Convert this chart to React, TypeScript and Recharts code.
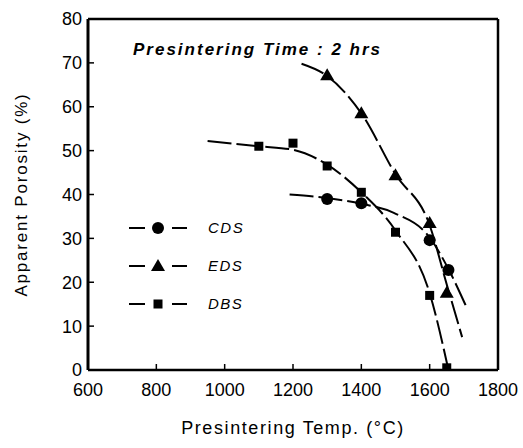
import {
  ComposedChart,
  Line,
  Scatter,
  XAxis,
  YAxis,
  ReferenceLine,
  Legend,
} from 'recharts';

const tempTicks = [600, 800, 1000, 1200, 1400, 1600, 1800];
const porosityTicks = [0, 10, 20, 30, 40, 50, 60, 70, 80];

// measured points
const cdsTemp = [1300, 1400, 1600, 1655];
const cdsPorosity = [39, 38, 29.6, 22.8];
const edsTemp = [1300, 1400, 1500, 1600, 1650];
const edsPorosity = [67.2, 58.5, 44.4, 33.5, 17.6];
const dbsTemp = [1100, 1200, 1300, 1400, 1500, 1600, 1650];
const dbsPorosity = [51, 51.7, 46.5, 40.5, 31.4, 17, 0.5];

// fitted curves
const cdsCurveTemp = [1190, 1300, 1400, 1495, 1600, 1655, 1705];
const cdsCurvePorosity = [40, 39.2, 37.9, 35.8, 30.2, 23, 14.8];
const edsCurveTemp = [1225, 1300, 1400, 1500, 1600, 1650, 1695];
const edsCurvePorosity = [69.8, 67, 58.5, 44.6, 33, 19.5, 7.5];
const dbsCurveTemp = [950, 1100, 1200, 1300, 1400, 1500, 1600, 1655];
const dbsCurvePorosity = [52.2, 51, 50.2, 46.8, 40.5, 31.8, 17.5, 0];

const toPoints = (xs: number[], ys: number[]) => xs.map((x, i) => ({ x, y: ys[i] }));

const seriesList = [
  { name: 'CDS', shape: 'circle', points: toPoints(cdsTemp, cdsPorosity), curve: toPoints(cdsCurveTemp, cdsCurvePorosity) },
  { name: 'EDS', shape: 'triangle', points: toPoints(edsTemp, edsPorosity), curve: toPoints(edsCurveTemp, edsCurvePorosity) },
  { name: 'DBS', shape: 'square', points: toPoints(dbsTemp, dbsPorosity), curve: toPoints(dbsCurveTemp, dbsCurvePorosity) },
];

const FONT = '"Liberation Sans", Arial, sans-serif';

function Marker({ kind, cx, cy }: { kind: string; cx: number; cy: number }) {
  if (kind === 'circle') return <circle cx={cx} cy={cy} r={6} fill="#000" />;
  if (kind === 'triangle')
    return <polygon points={`${cx},${cy - 7} ${cx - 7},${cy + 5} ${cx + 7},${cy + 5}`} fill="#000" />;
  return <rect x={cx - 4.5} y={cy - 4.5} width={9} height={9} fill="#000" />;
}

function LegendBox() {
  return (
    <svg width={140} height={100}>
      {seriesList.map((s, i) => {
        const y = 10 + i * 38;
        return (
          <g key={s.name}>
            <line x1={4} x2={20} y1={y} y2={y} stroke="#000" strokeWidth={2} />
            <Marker kind={s.shape} cx={33} cy={y} />
            <line x1={47} x2={62} y1={y} y2={y} stroke="#000" strokeWidth={2} />
            <text x={83} y={y + 5} fontSize={15} fontStyle="italic" fontFamily={FONT} fill="#000" letterSpacing={1.5}>
              {s.name}
            </text>
          </g>
        );
      })}
    </svg>
  );
}

export default function App() {
  return (
    <div style={{ position: 'absolute', left: 0, top: 0, width: 523, height: 448, background: '#fff' }}>
      <ComposedChart width={523} height={448} margin={{ top: 19, right: 25, left: 0, bottom: 8 }}>
        <XAxis
          type="number"
          dataKey="x"
          domain={[600, 1800]}
          ticks={tempTicks}
          allowDataOverflow
          height={70}
          tickSize={-6}
          tickMargin={19}
          axisLine={{ stroke: '#000', strokeWidth: 2.5 }}
          tickLine={{ stroke: '#000', strokeWidth: 1.5 }}
          tick={{ fill: '#000', fontSize: 18, fontFamily: FONT }}
          label={(props: any) => {
            const vb = props.viewBox;
            return (
              <text x={vb.x + vb.width / 2} y={434} textAnchor="middle" fontSize={18} fontFamily={FONT} fill="#000" letterSpacing={1.6}>
                Presintering Temp. (°C)
              </text>
            );
          }}
        />
        <YAxis
          type="number"
          dataKey="y"
          domain={[0, 80]}
          ticks={porosityTicks}
          allowDataOverflow
          width={88}
          tickSize={-6}
          tickMargin={12}
          axisLine={{ stroke: '#000', strokeWidth: 3 }}
          tickLine={{ stroke: '#000', strokeWidth: 1.5 }}
          tick={{ fill: '#000', fontSize: 18, fontFamily: FONT }}
          label={(props: any) => {
            const vb = props.viewBox;
            const cy = vb.y + vb.height / 2;
            return (
              <text x={27} y={cy} transform={`rotate(-90 27 ${cy})`} textAnchor="middle" fontSize={17} fontFamily={FONT} fill="#000" letterSpacing={1.8}>
                Apparent Porosity (%)
              </text>
            );
          }}
        />
        <ReferenceLine y={80} stroke="#000" strokeWidth={2.5} />
        <ReferenceLine x={1800} stroke="#000" strokeWidth={2.5} />
        {seriesList.map((s) => (
          <Line
            key={`${s.name}-curve`}
            data={s.curve}
            dataKey="y"
            type="monotone"
            stroke="#000"
            strokeWidth={2}
            strokeDasharray="24 5"
            dot={false}
            activeDot={false}
            legendType="none"
            isAnimationActive={false}
          />
        ))}
        {seriesList.map((s) => (
          <Scatter
            key={s.name}
            name={s.name}
            data={s.points}
            dataKey="y"
            fill="#000"
            isAnimationActive={false}
            shape={(p: any) => <Marker kind={s.shape} cx={p.cx} cy={p.cy} />}
          />
        ))}
        <Legend
          layout="vertical"
          align="center"
          verticalAlign="middle"
          wrapperStyle={{ left: 125, top: 218, width: 140, height: 100 }}
          content={() => <LegendBox />}
        />
      </ComposedChart>
      <div
        style={{
          position: 'absolute',
          left: 133,
          top: 40,
          fontFamily: FONT,
          fontSize: 17,
          fontStyle: 'italic',
          fontWeight: 'bold',
          letterSpacing: 2,
          color: '#000',
          whiteSpace: 'nowrap',
        }}
      >
        Presintering Time : 2 hrs
      </div>
    </div>
  );
}
